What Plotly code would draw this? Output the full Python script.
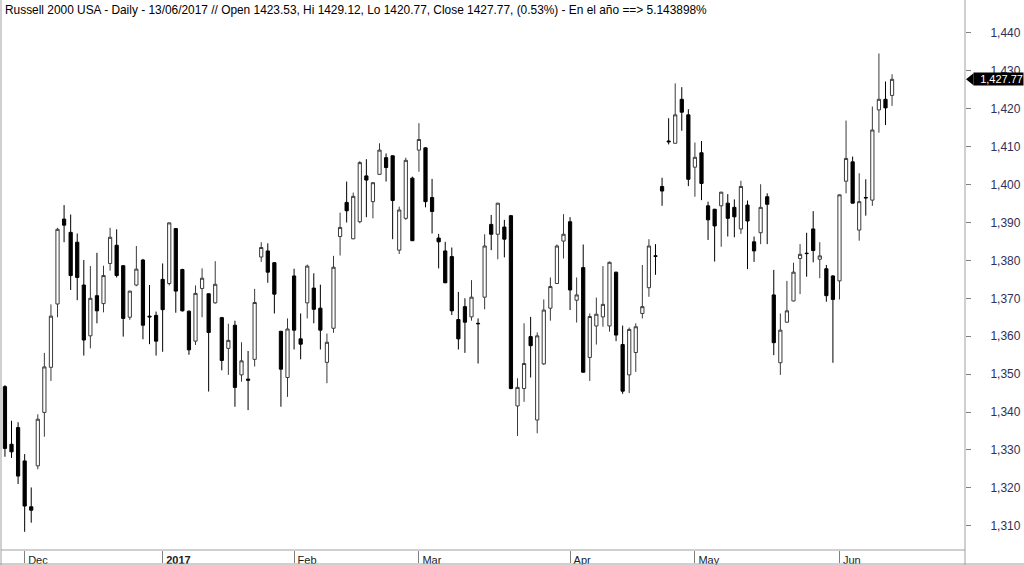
import plotly.graph_objects as go
import pandas as pd

# ---------------- data ----------------
market_holidays = ['2016-11-24', '2016-12-26', '2017-01-02', '2017-01-16',
                   '2017-02-20', '2017-04-14', '2017-05-29']
dates = [d.strftime('%Y-%m-%d') for d in
         pd.bdate_range('2016-11-28', '2017-06-13', freq='C', holidays=market_holidays)]

open_ = [1346.7, 1331.5, 1335.9, 1327.1, 1315.0, 1325.8, 1339.9, 1351.8, 1368.5, 1390.9,
         1387.4, 1384.8, 1373.5, 1360.1, 1370.7, 1368.6, 1379.2, 1384.0, 1378.6, 1365.0,
         1373.5, 1380.1, 1365.3, 1365.5, 1375.0, 1373.9, 1388.4, 1377.6, 1366.6, 1358.7,
         1372.6, 1371.2, 1368.8, 1364.9, 1356.8, 1362.9, 1349.8, 1348.7, 1353.9, 1380.9,
         1382.5, 1379.4, 1361.3, 1349.1, 1375.9, 1359.3, 1368.8, 1372.7, 1367.4, 1353.1,
         1362.1, 1386.3, 1395.3, 1385.7, 1390.2, 1402.3, 1395.5, 1402.7, 1407.1, 1407.6,
         1382.7, 1391.1, 1401.7, 1409.1, 1409.7, 1396.6, 1385.9, 1382.5, 1381.0, 1364.4,
         1367.8, 1365.1, 1363.4, 1370.3, 1389.5, 1386.9, 1388.8, 1391.8, 1341.6, 1346.2,
         1359.9, 1337.9, 1352.7, 1367.4, 1373.9, 1385.1, 1390.2, 1369.5, 1378.1, 1354.4,
         1362.7, 1365.1, 1362.7, 1376.9, 1357.8, 1349.8, 1355.7, 1366.0, 1372.8, 1381.2,
         1399.5, 1411.5, 1410.9, 1422.5, 1418.4, 1404.6, 1408.4, 1394.4, 1393.5, 1394.4,
         1395.1, 1394.0, 1388.3, 1394.6, 1384.9, 1387.3, 1396.8, 1370.9, 1353.0, 1363.7,
         1369.3, 1380.5, 1381.9, 1388.3, 1380.3, 1377.8, 1375.9, 1374.6, 1400.9, 1406.0,
         1388.0, 1396.6, 1395.9, 1419.7, 1422.5, 1423.53]
high = [1347.1, 1337.7, 1337.3, 1328.9, 1320.1, 1339.4, 1355.6, 1368.4, 1388.6, 1394.6,
        1392.1, 1387.1, 1380.1, 1378.5, 1382.0, 1378.6, 1388.6, 1388.2, 1378.8, 1372.0,
        1383.8, 1380.4, 1373.5, 1366.5, 1379.2, 1390.0, 1388.5, 1377.8, 1366.8, 1373.4,
        1377.9, 1371.3, 1379.8, 1365.1, 1363.3, 1364.1, 1358.4, 1356.1, 1372.5, 1384.8,
        1384.5, 1379.5, 1361.4, 1364.7, 1377.8, 1366.0, 1378.9, 1376.6, 1373.6, 1360.7,
        1381.2, 1392.6, 1400.8, 1397.9, 1406.2, 1406.7, 1400.6, 1410.9, 1408.2, 1407.7,
        1394.2, 1407.1, 1402.1, 1416.2, 1409.8, 1401.5, 1387.0, 1384.9, 1383.4, 1371.7,
        1370.0, 1374.8, 1364.7, 1386.9, 1392.0, 1395.1, 1390.7, 1392.0, 1348.9, 1363.4,
        1365.1, 1361.0, 1369.7, 1375.5, 1384.2, 1392.2, 1391.4, 1375.5, 1384.2, 1366.0,
        1370.2, 1378.5, 1379.7, 1377.0, 1362.8, 1362.3, 1363.4, 1378.8, 1385.6, 1384.3,
        1401.8, 1417.5, 1426.7, 1425.7, 1419.9, 1411.1, 1411.5, 1395.5, 1393.6, 1398.1,
        1397.5, 1396.1, 1401.0, 1395.8, 1386.3, 1400.1, 1397.7, 1377.5, 1366.0, 1374.6,
        1379.4, 1384.3, 1387.3, 1393.0, 1384.8, 1378.8, 1376.1, 1397.4, 1416.9, 1407.4,
        1403.0, 1401.4, 1420.6, 1434.6, 1427.2, 1429.12]
low = [1328.2, 1327.9, 1321.0, 1308.4, 1310.8, 1324.9, 1333.5, 1348.2, 1365.0, 1384.8,
       1372.2, 1369.5, 1354.9, 1356.8, 1363.4, 1366.3, 1377.3, 1375.5, 1359.9, 1364.3,
       1373.2, 1359.2, 1357.9, 1354.9, 1355.9, 1373.4, 1366.2, 1366.5, 1355.1, 1357.7,
       1365.0, 1345.4, 1368.6, 1351.0, 1349.8, 1341.4, 1348.0, 1340.5, 1352.0, 1379.6,
       1374.1, 1366.0, 1341.4, 1344.0, 1356.5, 1353.9, 1364.7, 1363.4, 1356.5, 1347.6,
       1360.9, 1381.3, 1390.0, 1385.6, 1389.8, 1391.4, 1391.1, 1402.6, 1400.8, 1385.6,
       1381.7, 1390.7, 1385.1, 1403.4, 1394.0, 1387.1, 1377.9, 1374.0, 1365.6, 1356.5,
       1355.6, 1364.1, 1352.8, 1367.1, 1382.7, 1380.3, 1380.8, 1346.0, 1333.7, 1342.7,
       1349.1, 1334.4, 1352.4, 1364.1, 1373.8, 1380.5, 1366.9, 1363.6, 1350.4, 1348.2,
       1357.8, 1362.5, 1361.2, 1358.7, 1344.8, 1345.0, 1350.6, 1364.7, 1370.4, 1376.2,
       1394.4, 1410.6, 1410.9, 1414.2, 1399.6, 1396.8, 1395.9, 1385.4, 1379.7, 1383.6,
       1386.3, 1386.1, 1387.0, 1377.7, 1379.6, 1384.3, 1384.3, 1355.0, 1349.8, 1363.6,
       1369.2, 1371.1, 1375.7, 1379.5, 1375.3, 1369.1, 1353.0, 1369.7, 1397.7, 1395.0,
       1385.2, 1391.8, 1394.4, 1413.7, 1415.7, 1420.77]
close = [1330.4, 1329.5, 1323.1, 1315.2, 1314.1, 1338.1, 1351.9, 1365.3, 1388.2, 1389.3,
         1376.0, 1375.5, 1359.0, 1370.0, 1366.7, 1376.0, 1386.1, 1376.0, 1364.7, 1371.9,
         1377.7, 1362.9, 1365.1, 1358.7, 1367.0, 1389.9, 1371.9, 1366.7, 1356.4, 1371.3,
         1375.3, 1361.0, 1373.7, 1353.6, 1358.9, 1346.5, 1353.5, 1348.4, 1368.9, 1383.4,
         1376.9, 1371.1, 1351.3, 1361.9, 1361.6, 1357.9, 1378.5, 1367.1, 1361.6, 1358.4,
         1378.2, 1388.7, 1393.1, 1396.9, 1405.8, 1401.2, 1400.5, 1409.1, 1404.5, 1395.8,
         1393.3, 1406.4, 1385.2, 1411.9, 1395.5, 1392.9, 1384.9, 1374.1, 1366.7, 1359.3,
         1363.7, 1370.3, 1363.3, 1383.8, 1386.9, 1395.1, 1385.6, 1346.2, 1346.5, 1352.8,
         1357.5, 1360.1, 1366.9, 1373.1, 1383.8, 1386.9, 1372.2, 1370.9, 1350.5, 1365.2,
         1365.8, 1368.4, 1379.5, 1360.3, 1345.5, 1361.8, 1362.5, 1367.8, 1383.8, 1381.1,
         1398.3, 1411.3, 1418.4, 1419.1, 1401.4, 1407.2, 1400.3, 1390.7, 1389.1, 1398.0,
         1391.1, 1391.5, 1399.5, 1390.4, 1382.5, 1394.0, 1394.8, 1358.3, 1361.6, 1366.7,
         1376.9, 1381.6, 1381.8, 1382.6, 1381.2, 1370.7, 1369.7, 1397.3, 1406.9, 1395.1,
         1395.5, 1396.5, 1414.4, 1422.5, 1420.24, 1427.77]

month_tick_dates = ['2016-12-01', '2017-01-03', '2017-02-01', '2017-03-01',
                    '2017-04-03', '2017-05-01', '2017-06-01']
month_tick_text = ['Dec', '<b>2017</b>', 'Feb', 'Mar', 'Apr', 'May', 'Jun']
price_ticks = list(range(1310, 1441, 10))

title_text = ("Russell 2000 USA - Daily - 13/06/2017 // Open 1423.53, Hi 1429.12, "
              "Lo 1420.77, Close 1427.77, (0.53%) - En el año ==> 5.143898%")

# ---------------- figure ----------------
Y_MIN, Y_MAX = 1303.6, 1448.7
PLOT_W, PLOT_H = 964, 550
FRAME = '#a0a0a0'

fig = go.Figure(go.Candlestick(
    x=dates, open=open_, high=high, low=low, close=close,
    increasing=dict(fillcolor='white', line=dict(color='#3a3a3a', width=1)),
    decreasing=dict(fillcolor='black', line=dict(color='black', width=1)),
    whiskerwidth=0, showlegend=False, hoverinfo='skip'))

last_close = close[-1]
fy = (last_close - Y_MIN) / (Y_MAX - Y_MIN)
half = 6 / PLOT_H

fig.update_layout(
    width=1024, height=565,
    margin=dict(l=1, r=59, t=0, b=15, pad=0),
    paper_bgcolor='white', plot_bgcolor='white',
    font=dict(family='Liberation Sans, Arial, sans-serif', size=11, color='black'),
    xaxis=dict(type='category', range=[-0.6, 146.1], rangeslider=dict(visible=False),
               tickvals=month_tick_dates, ticktext=month_tick_text,
               ticks='outside', ticklen=12, tickcolor='#808080', tickwidth=1,
               ticklabelposition='outside right', ticklabelshift=3,
               tickfont=dict(family='Liberation Sans Narrow, Liberation Sans, Arial', size=11,
                             color='#202020'),
               showgrid=False, showline=False, zeroline=False, fixedrange=True),
    yaxis=dict(side='right', range=[Y_MIN, Y_MAX], tickvals=price_ticks,
               tickformat=',d', ticks='outside', ticklen=5, tickcolor='#808080',
               ticklabelstandoff=17,
               tickfont=dict(size=12, color='#30305a'),
               showgrid=False, showline=False, zeroline=False, fixedrange=True),
    shapes=[
        dict(type='line', xref='paper', yref='paper', x0=0, x1=0, y0=-15/PLOT_H, y1=1,
             line=dict(color=FRAME, width=1)),
        dict(type='line', xref='paper', yref='paper', x0=1, x1=1, y0=-15/PLOT_H, y1=1,
             line=dict(color=FRAME, width=1)),
        dict(type='line', xref='paper', yref='paper', x0=0, x1=1, y0=0, y1=0,
             line=dict(color=FRAME, width=1)),
        dict(type='line', xref='paper', yref='paper', x0=-1/PLOT_W, x1=1023/PLOT_W,
             y0=-14/PLOT_H, y1=-14/PLOT_H, line=dict(color=FRAME, width=1)),
        dict(type='path', xref='paper', yref='paper', fillcolor='black', line=dict(width=0),
             path=f"M {(966-1)/PLOT_W},{fy} L {(973.5-1)/PLOT_W},{fy+half} "
                  f"L {(973.5-1)/PLOT_W},{fy-half} Z"),
    ],
    annotations=[
        dict(text=title_text, xref='paper', yref='paper', x=0, y=1, xanchor='left',
             yanchor='top', xshift=2, yshift=-1, showarrow=False, align='left',
             font=dict(size=11.9, color='black')),
        dict(text=f"{last_close:,.2f}", xref='paper', yref='paper', x=1, y=fy,
             xanchor='left', yanchor='middle', xshift=8, showarrow=False,
             width=49, height=12, align='right',
             bgcolor='black', borderpad=0, font=dict(size=11, color='white')),
    ],
)

fig.write_html("out.html", config={'displayModeBar': False},
               post_script="document.body.style.margin='0';document.body.style.overflow='hidden';")
